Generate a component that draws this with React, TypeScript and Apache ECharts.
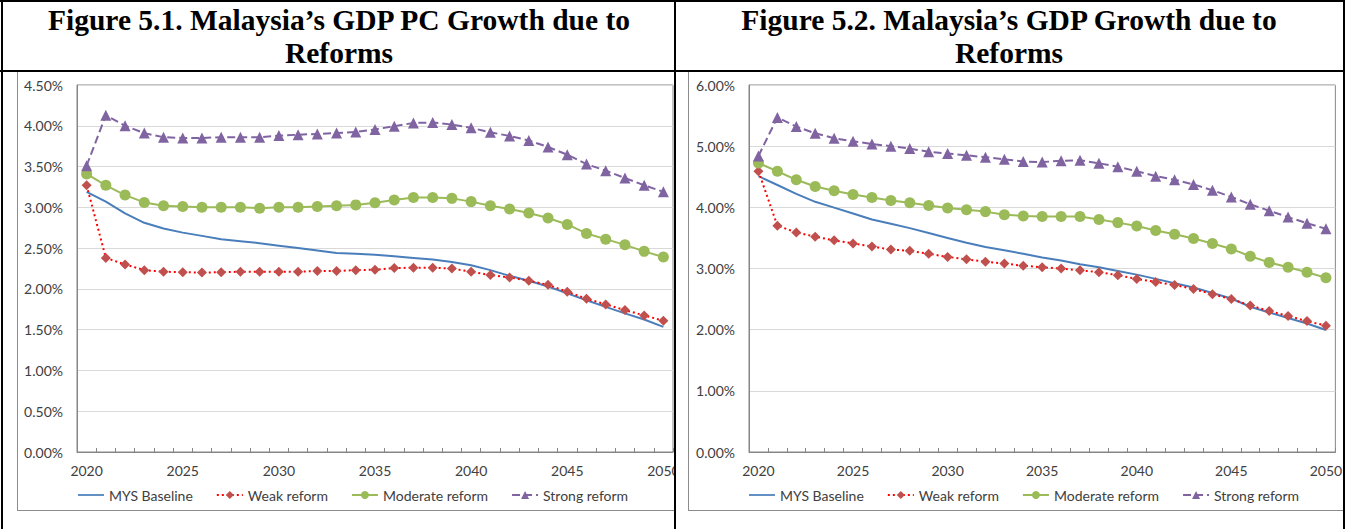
import React, { useEffect, useRef } from "react";
import * as echarts from "echarts";

const years = ["2020","2021","2022","2023","2024","2025","2026","2027","2028","2029","2030","2031","2032","2033","2034","2035","2036","2037","2038","2039","2040","2041","2042","2043","2044","2045","2046","2047","2048","2049","2050"];

const seriesNames = ["MYS Baseline", "Weak reform", "Moderate reform", "Strong reform"];

const titleLeft = "Figure 5.1. Malaysia\u2019s GDP PC Growth due to\nReforms";
const titleRight = "Figure 5.2. Malaysia\u2019s GDP Growth due to\nReforms";

// Figure 5.1 GDP per capita growth (%)
const pcBaseline = [3.19,3.07,2.925,2.81,2.74,2.69,2.65,2.61,2.585,2.56,2.53,2.50,2.47,2.44,2.43,2.42,2.40,2.38,2.36,2.33,2.29,2.23,2.16,2.10,2.03,1.945,1.86,1.78,1.70,1.625,1.535];
const pcWeak = [3.27,2.38,2.30,2.23,2.21,2.205,2.20,2.205,2.21,2.21,2.21,2.21,2.22,2.22,2.23,2.235,2.255,2.26,2.26,2.25,2.21,2.17,2.14,2.10,2.05,1.965,1.88,1.81,1.74,1.675,1.61];
const pcModerate = [3.41,3.27,3.15,3.06,3.02,3.01,3.00,3.00,3.00,2.99,3.00,3.00,3.01,3.02,3.03,3.055,3.09,3.12,3.12,3.11,3.07,3.02,2.98,2.93,2.87,2.79,2.68,2.61,2.54,2.46,2.39];
const pcStrong = [3.51,4.13,4.00,3.91,3.86,3.85,3.85,3.86,3.86,3.86,3.88,3.89,3.90,3.91,3.925,3.955,3.995,4.035,4.04,4.015,3.975,3.92,3.875,3.82,3.74,3.645,3.53,3.45,3.36,3.27,3.19];

// Figure 5.2 GDP growth (%)
const gBaseline = [4.51,4.365,4.22,4.09,3.995,3.90,3.80,3.73,3.66,3.58,3.50,3.42,3.35,3.30,3.24,3.18,3.13,3.07,3.02,2.96,2.90,2.83,2.76,2.69,2.60,2.51,2.375,2.28,2.19,2.10,1.995];
const gWeak = [4.59,3.70,3.59,3.52,3.46,3.41,3.36,3.31,3.29,3.24,3.19,3.15,3.11,3.08,3.045,3.02,3.00,2.97,2.94,2.89,2.83,2.78,2.73,2.665,2.58,2.50,2.395,2.305,2.225,2.14,2.065];
const gModerate = [4.725,4.59,4.45,4.34,4.27,4.21,4.16,4.11,4.075,4.03,3.99,3.96,3.93,3.88,3.86,3.85,3.85,3.85,3.80,3.75,3.695,3.62,3.56,3.49,3.41,3.32,3.20,3.10,3.02,2.94,2.85];
const gStrong = [4.84,5.47,5.32,5.21,5.13,5.08,5.035,5.00,4.96,4.91,4.88,4.85,4.82,4.785,4.75,4.74,4.76,4.77,4.72,4.665,4.59,4.51,4.45,4.375,4.28,4.17,4.05,3.945,3.84,3.74,3.65];

const leftYMax = 4.5, leftYStep = 0.5;
const rightYMax = 6, rightYStep = 1;

const FONT = "Lato, 'Noto Sans', sans-serif";
const TXT = "#404040";
const AXIS = "#868686";
const GRIDC = "#d9d9d9";
const LINE_ICON = "path://M0,0H30V2H0Z";

function makeSeries(idx: number, data: number[][]) {
  const [base, weak, mod, strong] = data;
  const common = { xAxisIndex: idx, yAxisIndex: idx };
  return [
    { ...common, name: seriesNames[0], type: "line", data: base, showSymbol: false, symbol: "none",
      lineStyle: { color: "#4a7ebb", width: 2 }, itemStyle: { color: "#4a7ebb" } },
    { ...common, name: seriesNames[1], type: "line", data: weak, symbol: "diamond", symbolSize: 10,
      lineStyle: { color: "#ff0000", width: 2, type: [2, 3] }, itemStyle: { color: "#c0504d" } },
    { ...common, name: seriesNames[2], type: "line", data: mod, symbol: "circle", symbolSize: 11,
      lineStyle: { color: "#9bbb59", width: 2 }, itemStyle: { color: "#9bbb59" } },
    { ...common, name: seriesNames[3], type: "line", data: strong, symbol: "triangle", symbolSize: 11,
      lineStyle: { color: "#8064a2", width: 2, type: [8, 4] }, itemStyle: { color: "#8064a2" } },
  ];
}

function xAxisFor(idx: number) {
  return {
    type: "category", gridIndex: idx, data: years, boundaryGap: true,
    axisLine: { lineStyle: { color: AXIS, width: 1 } },
    axisTick: { show: true, interval: 0, inside: true, length: 4, lineStyle: { color: AXIS } },
    axisLabel: { interval: 4, color: TXT, fontFamily: FONT, fontSize: 14, margin: 11 },
    splitLine: { show: false },
  };
}

function yAxisFor(idx: number, max: number, step: number) {
  return {
    type: "value", gridIndex: idx, min: 0, max, interval: step,
    axisLine: { show: true, lineStyle: { color: AXIS, width: 1 } },
    axisTick: { show: false },
    axisLabel: { color: TXT, fontFamily: FONT, fontSize: 14, margin: 14,
      formatter: (v: number) => v.toFixed(2) + "%" },
    splitLine: { show: true, lineStyle: { color: GRIDC, width: 1 } },
  };
}

function legendFor(left: number) {
  return {
    left, top: 483, itemWidth: 26, itemHeight: 10, itemGap: 23,
    data: [
      { name: seriesNames[0], icon: LINE_ICON },
      { name: seriesNames[1] },
      { name: seriesNames[2] },
      { name: seriesNames[3] },
    ],
    textStyle: { color: TXT, fontFamily: FONT, fontSize: 14 }, selectedMode: false,
  };
}

export default function App() {
  const ref = useRef<HTMLDivElement>(null);
  useEffect(() => {
    if (!ref.current) return;
    const chart = echarts.init(ref.current, null, { renderer: "svg" });
    const titleStyle = {
      fill: "#000", fontFamily: "'Liberation Serif', 'Times New Roman', serif",
      fontWeight: "bold", fontSize: 29.5, lineHeight: 33, align: "center", verticalAlign: "top",
    };
    chart.setOption({
      animation: false,
      backgroundColor: "#fff",
      grid: [
        { left: 77, top: 85, width: 596, height: 367, show: true, borderColor: AXIS, borderWidth: 1, backgroundColor: "transparent" },
        { left: 749, top: 85, width: 596, height: 367, show: true, borderColor: AXIS, borderWidth: 1, backgroundColor: "transparent" },
      ],
      xAxis: [xAxisFor(0), xAxisFor(1)],
      yAxis: [yAxisFor(0, leftYMax, leftYStep), yAxisFor(1, rightYMax, rightYStep)],
      legend: [legendFor(73), legendFor(744)],
      series: [
        ...makeSeries(0, [pcBaseline, pcWeak, pcModerate, pcStrong]),
        ...makeSeries(1, [gBaseline, gWeak, gModerate, gStrong]),
      ],
      graphic: [
        // white cover right of left cell (clips overflowing label)
        { type: "rect", z: 100, shape: { x: 676, y: 72, width: 11, height: 457 }, style: { fill: "#fff" } },
        // chart frames
        { type: "line", z: 101, shape: { x1: 17.5, y1: 72, x2: 17.5, y2: 510.5 }, style: { stroke: "#8c8c8c", lineWidth: 1 } },
        { type: "line", z: 101, shape: { x1: 17, y1: 510.5, x2: 674, y2: 510.5 }, style: { stroke: "#8c8c8c", lineWidth: 1 } },
        { type: "line", z: 101, shape: { x1: 688.5, y1: 72, x2: 688.5, y2: 510.5 }, style: { stroke: "#8c8c8c", lineWidth: 1 } },
        { type: "line", z: 101, shape: { x1: 688, y1: 510.5, x2: 1343, y2: 510.5 }, style: { stroke: "#8c8c8c", lineWidth: 1 } },
        // table borders
        { type: "line", z: 102, shape: { x1: 0, y1: 1, x2: 1345, y2: 1 }, style: { stroke: "#000", lineWidth: 2 } },
        { type: "line", z: 102, shape: { x1: 0, y1: 71, x2: 1345, y2: 71 }, style: { stroke: "#000", lineWidth: 2 } },
        { type: "line", z: 102, shape: { x1: 2, y1: 0, x2: 2, y2: 529 }, style: { stroke: "#000", lineWidth: 2 } },
        { type: "line", z: 102, shape: { x1: 675, y1: 0, x2: 675, y2: 529 }, style: { stroke: "#000", lineWidth: 2 } },
        { type: "line", z: 102, shape: { x1: 1344, y1: 0, x2: 1344, y2: 529 }, style: { stroke: "#000", lineWidth: 2 } },
        // titles
        { type: "text", z: 103, x: 339, y: 3, style: { ...titleStyle, text: titleLeft } },
        { type: "text", z: 103, x: 1009, y: 3, style: { ...titleStyle, text: titleRight } },
      ],
    });
    return () => chart.dispose();
  }, []);
  return (
    <div
      ref={ref}
      style={{ position: "fixed", left: 0, top: 0, width: 1345, height: 529, background: "#fff" }}
    />
  );
}
